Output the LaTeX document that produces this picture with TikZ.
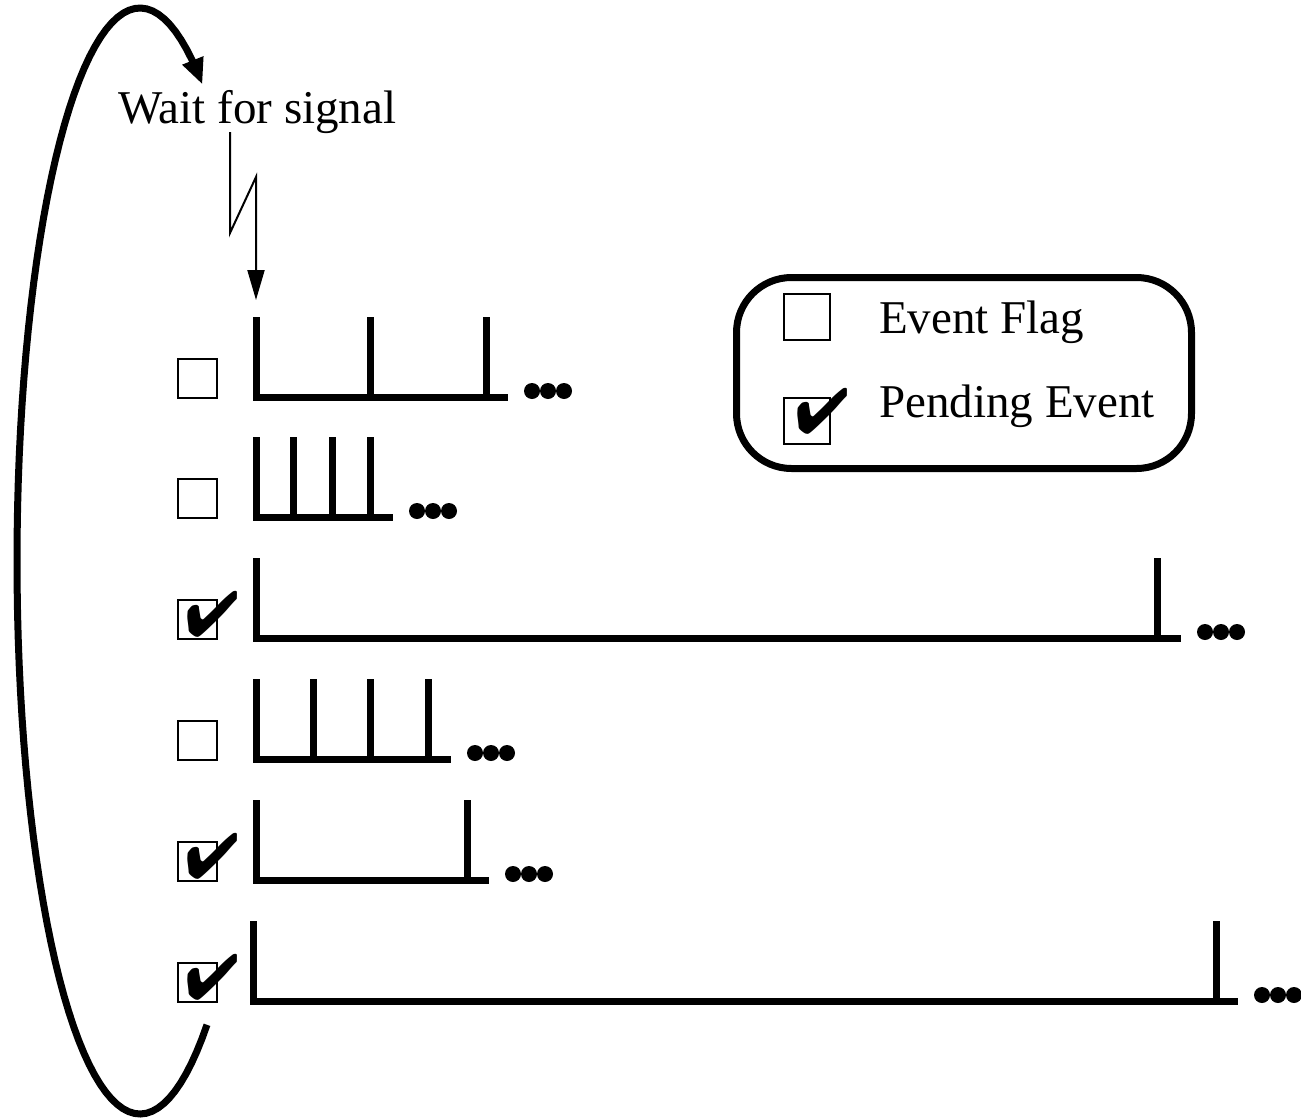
\documentclass[tikz,border=0pt]{standalone}
\usepackage{fontspec}
\setmainfont{Liberation Serif}
\usepackage{pifont}
\usetikzlibrary{arrows.meta}

\newcommand{\pendmark}{\fontsize{64}{64}\selectfont\ding{52}}

\begin{document}
\begin{tikzpicture}[x=1pt, y=-1pt, font=\fontsize{47}{56}\selectfont]
  \tikzstyle{flag}=[rectangle,draw,line width=2pt,minimum size=39pt,inner sep=0pt]
  \tikzstyle{tickmark}=[inner sep=0pt]
  \tikzstyle{keylabel}=[anchor=base west,inner sep=0pt]
  \tikzstyle{train}=[line width=7pt]
  \useasboundingbox (0,0) rectangle (1301,1119);

  % event trains: row / baseline / left edge / ticks / line end / pending
  \foreach \n/\yb/\xa/\ticks/\xe/\chk in {1/397/256/{370,486}/508/0,
      2/517/256/{293,332,370}/393/0, 3/638/256/{1157}/1181/1,
      4/759/256/{313,370,428}/451/0, 5/880/256/{467}/489/1,
      6/1001/253/{1216}/1238/1} {
    \node[flag] (flag\n) at (197.5,\yb-18.5) {};
    \ifnum\chk=1 \node[tickmark] at ([shift={(15,-5.5)}]flag\n.center) {\pendmark}; \fi
    \draw[train] (\xa,\yb-80) |- (\xe,\yb);
    \foreach \t in \ticks {\draw[train] (\t,\yb-80) -- (\t,\yb+3.5);}
    \foreach \k in {0,1,2} {\fill (\xe+24+16*\k,\yb-6) circle[radius=8pt];}
  }

  % key
  \node[draw,line width=7pt,rounded corners=55pt,minimum width=455pt,minimum height=191pt] (legend) at (964,373) {};
  \node[flag,minimum size=46pt] (keyflag) at (807,317) {};
  \node[flag,minimum size=46pt] (keypend) at (807,421) {};
  \node[tickmark] at ([shift={(15.5,-10)}]keypend.center) {\pendmark};
  \node[keylabel] (flagtext) at (879,333) {Event Flag};
  \node[keylabel] (pendtext) at (879,417) {Pending Event};

  % signal
  \node[keylabel] (wait) at (118,123) {Wait for signal};
  \coordinate (bolt) at (230,132);
  \coordinate (hit) at (256,300);
  \draw[line width=2pt,-{Triangle[length=30pt,width=17pt]}] (bolt) -- ++(0,101) -- ++(26,-56) -- (hit);

  % polling loop
  \draw[line width=7pt,-{Triangle[length=26pt,width=21pt]}]
    plot[domain=57:300.5,samples=90] ({140+123*cos(\x)},{561+553*sin(\x)});
\end{tikzpicture}
\end{document}
